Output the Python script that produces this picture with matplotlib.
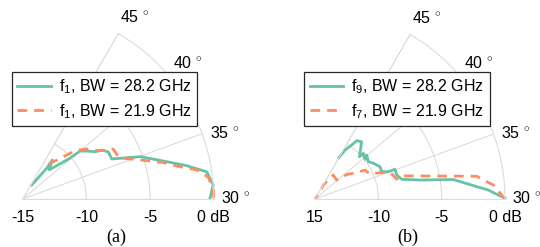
import numpy as np
import matplotlib
matplotlib.use('Agg')
import matplotlib.pyplot as plt
import matplotlib.transforms as mtransforms

plt.rcParams['font.family'] = ['Liberation Sans', 'DejaVu Sans']
plt.rcParams['mathtext.fontset'] = 'custom'
plt.rcParams['mathtext.rm'] = 'Liberation Sans'
plt.rcParams['mathtext.it'] = 'Liberation Sans:italic'

GREEN = '#66c2a5'
ORANGE = '#fc8d62'
GRID = '#dcdcdc'

# angles (deg) of the theta grid / labels
theta_ticks = [30, 35, 40, 45]
r_ticks = [-15, -10, -5, 0]
r_labels_a = ['-15', '-10', '-5', '0 dB']
r_labels_b = ['15', '-10', '-5', '0 dB']

# panel (a)
a1_theta = [30.05, 31.04, 32.1, 32.87, 33.63, 34.96, 35.67, 36.05, 37.2, 37.95,
            38.3, 39.2, 39.97, 40.2, 41.9, 43.2, 43.0, 44.3]
a1_r = [-0.29, 0.0, -0.39, -1.86, -3.31, -5.2, -6.71, -7.33, -7.33, -7.7,
        -8.21, -8.72, -9.13, -10.1, -11.9, -11.15, -11.94, -13.7]
a2_theta = [30.05, 30.67, 31.67, 32.37, 32.9, 33.65, 34.6, 35.4, 35.97, 37.2,
            37.6, 38.1, 39.2, 40.6, 41.95, 43.97]
a2_r = [0.0, 0.0, -0.32, -1.14, -2.38, -3.61, -5.29, -6.35, -6.79, -6.87,
        -7.36, -7.96, -8.39, -9.34, -10.76, -11.87]

# panel (b)
b1_theta = [30.05, 30.74, 32.0, 32.56, 33.2, 34.1, 35.1, 35.1, 35.6, 36.6,
            37.9, 38.75, 40.1, 39.6, 40.85, 40.9, 42.7, 43.6, 43.95, 44.6, 45.0]
b1_r = [0.0, -1.31, -3.97, -6.58, -7.98, -8.28, -8.27, -8.83, -9.31, -9.27,
        -9.6, -9.86, -9.64, -9.96, -9.75, -10.16, -9.17, -9.34, -9.85, -10.46, -11.23]
b2_theta = [30.0, 31.12, 32.0, 32.6, 33.8, 33.4, 34.95, 35.5, 36.1, 37.5,
            38.3, 39.4, 40.3, 43.2, 44.8, 43.9, 45.0]
b2_r = [0.0, -0.88, -2.11, -4.97, -8.05, -8.36, -8.71, -9.47, -10.23, -10.44,
        -11.22, -11.84, -12.73, -12.62, -13.71, -14.3, -15.0]


def ang(t):
    # the 30..45 deg sector is stretched over 60 deg of the plot
    return np.deg2rad((np.asarray(t) - 30.0) * 4.0)


fig = plt.figure(figsize=(5.4, 2.47), dpi=100)


def panel(x0, R, t1, r1, t2, r2, lab1, lab2, rlabels, caption):
    # polar axes keep a square box, the wedge sits centred in it
    y0 = 48 - (R - R * np.sin(np.pi / 3)) / 2
    ax = fig.add_axes([x0 / 540, y0 / 247, R / 540, R / 247], projection='polar')
    ax.set_thetamin(0)
    ax.set_thetamax(60)
    ax.set_rlim(-15, 0)
    ax.set_xticks(ang(theta_ticks))
    ax.set_xticklabels([])
    ax.set_yticks([-10, -5])
    ax.set_yticklabels([])
    ax.tick_params(length=0)
    ax.grid(True, color=GRID, lw=0.8)
    for s in ax.spines.values():
        s.set_color(GRID)
        s.set_linewidth(0.8)

    l1, = ax.plot(ang(t1), r1, color=GREEN, lw=2.0, clip_on=False)
    l2, = ax.plot(ang(t2), r2, color=ORANGE, lw=2.0, ls=(0, (3.5, 2.5)), clip_on=False)

    # label positions, nudged a little off the grid rays
    for t, pos, rr in zip(theta_ticks, [30.05, 34.55, 39.9, 44.6], [1.7, 1.7, 1.8, 1.75]):
        ax.text(ang(pos), rr, '%d$\\,^\\circ$' % t, ha='center', va='center',
                fontsize=11.5, clip_on=False)
    off = mtransforms.offset_copy(ax.transData, fig=fig, x=0, y=-8, units='points')
    for r, s in zip(r_ticks, rlabels):
        ax.text(0, r, s, transform=off, ha='center', va='top', fontsize=11.5)

    leg = ax.legend([l1, l2], [lab1, lab2], loc='upper left',
                    bbox_to_anchor=((x0 - 11) / 540, 1 - 72 / 247),
                    bbox_transform=fig.transFigure,
                    borderaxespad=0, fancybox=False, framealpha=1, edgecolor='0.15',
                    fontsize=11.5, handlelength=2.1, labelspacing=0.35,
                    borderpad=0.35, handletextpad=0.5)
    leg.get_frame().set_linewidth(0.9)
    leg.set_zorder(10)

    fig.text((x0 + R / 2 - 2) / 540, 1 - 237 / 247, caption,
             ha='center', va='center', fontsize=13, family='Liberation Serif')
    return ax


panel(22.7, 191, a1_theta, a1_r, a2_theta, a2_r,
      'f$_1$, BW = 28.2 GHz', 'f$_1$, BW = 21.9 GHz', r_labels_a, '(a)')
panel(315, 190, b1_theta, b1_r, b2_theta, b2_r,
      'f$_9$, BW = 28.2 GHz', 'f$_7$, BW = 21.9 GHz', r_labels_b, '(b)')

fig.savefig('out.png', dpi=100)
